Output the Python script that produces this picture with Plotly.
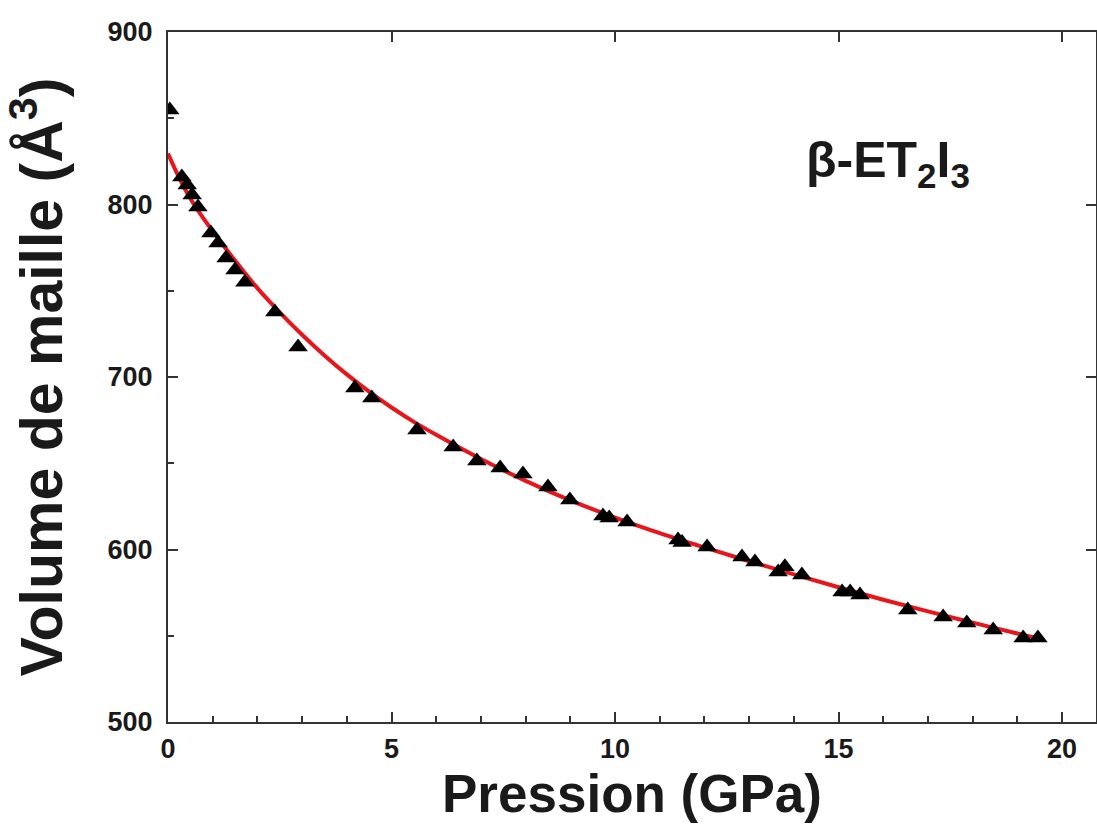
import plotly.graph_objects as go

# Measured data points (pressure in GPa, cell volume in Å^3)
pressure = [0.04, 0.31, 0.43, 0.54, 0.67, 0.96, 1.12, 1.30, 1.50, 1.72, 2.39, 2.91,
            4.18, 4.56, 5.57, 6.38, 6.91, 7.43, 7.94, 8.50, 8.99, 9.73, 9.87, 10.27,
            11.41, 11.50, 12.06, 12.84, 13.13, 13.65, 13.80, 14.18, 15.08, 15.26, 15.48,
            16.55, 17.34, 17.87, 18.46, 19.13, 19.46]
volume = [854.8, 815.9, 811.3, 805.5, 798.6, 783.5, 777.7, 769.0, 762.0, 755.0, 737.7, 717.4,
          693.6, 687.8, 669.3, 659.4, 651.3, 647.2, 643.8, 636.2, 628.7, 619.4, 618.3, 615.9,
          605.5, 604.0, 601.4, 595.7, 592.8, 587.0, 590.0, 585.2, 575.4, 575.4, 573.6,
          564.9, 560.9, 557.4, 553.3, 548.7, 548.7]

# Fitted equation-of-state curve
fit_pressure = [0, 0.25, 0.5, 0.75, 1, 1.5, 2, 2.5, 3, 3.5, 4, 4.5, 5, 5.5, 6, 7, 8, 9, 10,
                11, 12, 13, 14, 15, 16, 17, 18, 19, 19.6]
fit_volume = [829.5, 815.5, 803.5, 793.5, 784.5, 767.5, 751.5, 737.5, 724.5, 712.5, 701.5,
              691.5, 682.3, 674.0, 666.5, 652.5, 639.8, 628.5, 618.5, 609.5, 601.2, 593.2,
              585.6, 578.1, 570.9, 564.1, 557.6, 551.3, 547.6]

x_range = [0, 20.76]
y_range = [500, 900]

FONT = "Liberation Sans, Arial, sans-serif"
axis_color = "#333333"
text_color = "#1a1a1a"
tick_font = dict(family=FONT, size=27, color=text_color, weight="bold")

fig = go.Figure()
fig.add_trace(go.Scatter(x=fit_pressure, y=fit_volume, mode="lines",
                         line=dict(color="#e8161b", width=4, shape="spline"),
                         showlegend=False, hoverinfo="skip"))
fig.add_trace(go.Scatter(x=pressure, y=volume, mode="markers",
                         marker=dict(symbol="triangle-up", size=17, color="black"),
                         showlegend=False))
# invisible trace to anchor the mirrored (top / right) axes
fig.add_trace(go.Scatter(x=[None], y=[None], xaxis="x2", yaxis="y2",
                         showlegend=False, hoverinfo="skip"))

fig.update_layout(
    width=1097, height=828,
    margin=dict(l=168, r=1, t=32, b=106),
    paper_bgcolor="white", plot_bgcolor="white",
    font=dict(family=FONT, color=text_color),
    xaxis=dict(
        range=x_range, showgrid=False, zeroline=False, automargin=False,
        showline=True, linecolor=axis_color, linewidth=2,
        ticks="inside", ticklen=10, tickwidth=2, tickcolor=axis_color,
        dtick=5, tick0=0,
        minor=dict(ticks="inside", ticklen=6, tickwidth=1.5, tickcolor=axis_color, dtick=1),
        tickfont=tick_font, ticklabelstandoff=2,
        title=dict(text="<b>Pression (GPa)</b>",
                   font=dict(family=FONT, size=53, color=text_color),
                   standoff=0),
    ),
    yaxis=dict(
        range=y_range, showgrid=False, zeroline=False, automargin=False,
        showline=True, linecolor=axis_color, linewidth=2,
        ticks="inside", ticklen=10, tickwidth=2, tickcolor=axis_color,
        dtick=100, tick0=500,
        minor=dict(ticks="inside", ticklen=6, tickwidth=1.5, tickcolor=axis_color, dtick=50),
        tickfont=tick_font, ticklabelstandoff=8,
        title=dict(text="<b>Volume de maille (Å<sup>3</sup>)</b>",
                   font=dict(family=FONT, size=59, color=text_color),
                   standoff=32),
    ),
    xaxis2=dict(
        range=x_range, overlaying="x", side="top", anchor="y",
        showgrid=False, zeroline=False, showticklabels=False,
        showline=True, linecolor=axis_color, linewidth=2,
        ticks="inside", ticklen=10, tickwidth=2, tickcolor=axis_color,
        dtick=5, tick0=0,
    ),
    yaxis2=dict(
        range=y_range, overlaying="y", side="right", anchor="x",
        showgrid=False, zeroline=False, showticklabels=False,
        showline=True, linecolor=axis_color, linewidth=2,
        ticks="inside", ticklen=10, tickwidth=2, tickcolor=axis_color,
        dtick=100, tick0=500,
    ),
    annotations=[dict(
        x=16.1, y=824, xref="x", yref="y", showarrow=False,
        text="<b>β-ET<sub>2</sub>I<sub>3</sub></b>",
        font=dict(family=FONT, size=50, color=text_color),
    )],
)

fig.write_html(
    "out.html",
    config={"displayModeBar": False},
    post_script="document.body.style.margin='0';document.body.style.overflow='hidden';",
)
